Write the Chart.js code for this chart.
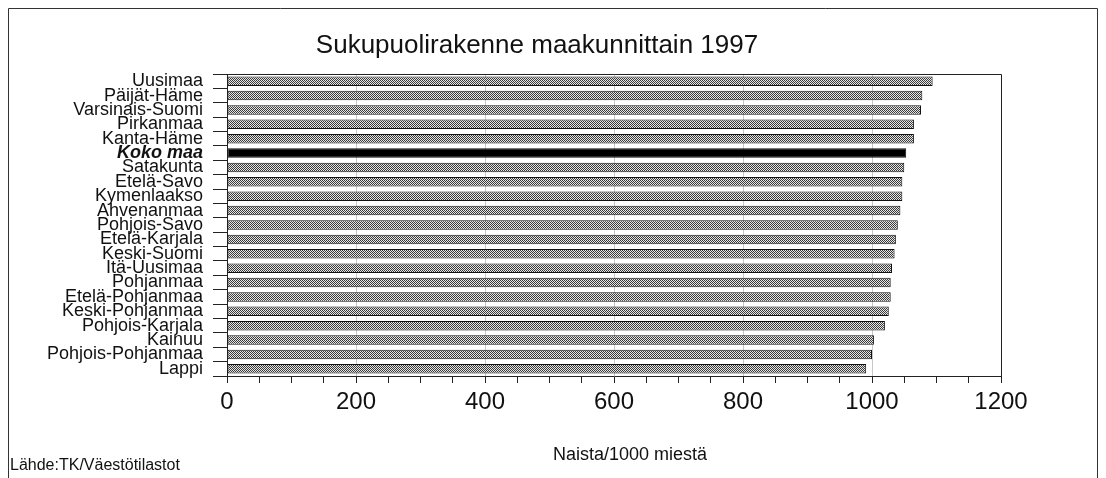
<!DOCTYPE html>
<html><head><meta charset="utf-8">
<script src="https://cdn.jsdelivr.net/npm/chart.js@4"></script>
<style>html,body{margin:0;padding:0;background:#fff}#wrap{width:1106px;height:478px}</style>
</head><body><div id="wrap"><canvas id="c" width="1106" height="478"></canvas></div>
<script>
const categories = ["Uusimaa","Päijät-Häme","Varsinais-Suomi","Pirkanmaa","Kanta-Häme","Koko maa","Satakunta","Etelä-Savo","Kymenlaakso","Ahvenanmaa","Pohjois-Savo","Etelä-Karjala","Keski-Suomi","Itä-Uusimaa","Pohjanmaa","Etelä-Pohjanmaa","Keski-Pohjanmaa","Pohjois-Karjala","Kainuu","Pohjois-Pohjanmaa","Lappi"];
const values = [1094,1078,1076,1065,1065,1053,1050,1047,1047,1044,1040,1037,1035,1031,1029,1029,1026,1020,1003,1000,991];
const xTickLabels = [0,200,400,600,800,1000,1200];
const titleText = "Sukupuolirakenne maakunnittain 1997";
const xTitle = "Naista/1000 miestä";
const sourceText = "Lähde:TK/Väestötilastot";
const highlight = "Koko maa";

const FONT = "'Liberation Sans', Arial, Helvetica, sans-serif";

function makePattern(){
  const p = document.createElement('canvas');
  p.width = 2; p.height = 2;
  const g = p.getContext('2d');
  g.fillStyle = '#e6e6e6'; g.fillRect(0,0,2,2);
  g.fillStyle = '#3a3a3a';
  g.fillRect(0,0,1,1); g.fillRect(1,1,1,1);
  return document.getElementById('c').getContext('2d').createPattern(p,'repeat');
}
const pat = makePattern();

const framePlugin = {
  id:'frame',
  afterDraw(chart){
    const ctx = chart.ctx, a = chart.chartArea;
    ctx.save();
    ctx.strokeStyle = '#222'; ctx.lineWidth = 1;
    ctx.beginPath();
    ctx.moveTo(a.left, a.top+0.5); ctx.lineTo(a.right+0.5, a.top+0.5); ctx.lineTo(a.right+0.5, a.bottom);
    ctx.stroke();
    ctx.strokeStyle = '#333';
    ctx.beginPath();
    ctx.moveTo(8.5, 478); ctx.lineTo(8.5, 8.5); ctx.lineTo(1097.5, 8.5); ctx.lineTo(1097.5, 478);
    ctx.stroke();
    ctx.fillStyle = '#111';
    ctx.textBaseline = 'middle';
    ctx.textAlign = 'center';
    ctx.font = "26px " + FONT;
    ctx.fillText(titleText, 537, 46);
    ctx.font = "18px " + FONT;
    ctx.fillText(xTitle, 630, 455);
    ctx.textAlign = 'left';
    ctx.font = "16px " + FONT;
    ctx.fillText(sourceText, 10, 466);
    ctx.restore();
  }
};

new Chart(document.getElementById('c'), {
  type:'bar',
  data:{
    labels: categories,
    datasets:[{
      data: values,
      backgroundColor: categories.map(c => c===highlight ? '#000' : pat),
      borderColor:'#111',
      borderWidth:1,
      borderSkipped:false,
      barPercentage:0.66,
      categoryPercentage:1
    }]
  },
  options:{
    indexAxis:'y',
    responsive:false,
    animation:false,
    layout:{padding:{top:74,right:105,bottom:0,left:0}},
    plugins:{
      legend:{display:false},
      tooltip:{enabled:false},
      title:{display:false}
    },
    scales:{
      x:{
        min:0,max:1200,
        ticks:{stepSize:50,autoSkip:false,maxRotation:0,padding:5,color:'#111',
          font:{family:FONT,size:24},
          callback:(v)=> xTickLabels.includes(v) ? String(v) : ''},
        grid:{
          color:(ctx)=> (ctx.tick && ctx.tick.value%200===0 && ctx.tick.value>0 && ctx.tick.value<1200) ? '#c8c8c8' : 'rgba(0,0,0,0)',
          tickColor:'#222',tickLength:7,lineWidth:1
        },
        border:{display:true,color:'#222'},
        title:{display:false},
        afterFit:(s)=>{s.height = 102;}
      },
      y:{
        ticks:{autoSkip:false,padding:10,color:'#111',
          font:(ctx)=> (categories[ctx.index]===highlight) ? {family:FONT,size:18,style:'italic',weight:'bold'} : {family:FONT,size:18}},
        grid:{drawOnChartArea:false,tickLength:14,tickColor:'#222'},
        border:{display:true,color:'#222'},
        afterFit:(s)=>{s.width = 227;}
      }
    }
  },
  plugins:[framePlugin]
});
</script></body></html>
